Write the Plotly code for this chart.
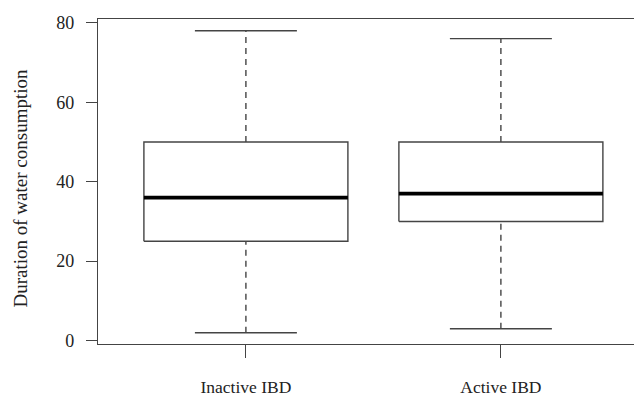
import plotly.graph_objects as go

categories = ["Inactive IBD", "Active IBD"]
lower_whisker = [2, 3]
q1 = [25, 30]
median = [36, 37]
q3 = [50, 50]
upper_whisker = [78, 76]
y_ticks = [0, 20, 40, 60, 80]

BOX_HALF = 0.4
CAP_HALF = 0.2
LINE_COL = "#444444"
FONT = "Liberation Serif, Times New Roman, serif"

fig = go.Figure()
positions = list(range(1, len(categories) + 1))

for p, lo, a, m, b, hi in zip(positions, lower_whisker, q1, median, q3, upper_whisker):
    # whiskers (dashed)
    fig.add_trace(go.Scatter(x=[p, p], y=[b, hi], mode="lines",
                             line=dict(color=LINE_COL, width=1.4, dash="6px,5px"),
                             showlegend=False, hoverinfo="skip"))
    fig.add_trace(go.Scatter(x=[p, p], y=[lo, a], mode="lines",
                             line=dict(color=LINE_COL, width=1.4, dash="6px,5px"),
                             showlegend=False, hoverinfo="skip"))
    # caps
    fig.add_trace(go.Scatter(x=[p - CAP_HALF, p + CAP_HALF], y=[hi, hi], mode="lines",
                             line=dict(color=LINE_COL, width=1.4),
                             showlegend=False, hoverinfo="skip"))
    fig.add_trace(go.Scatter(x=[p - CAP_HALF, p + CAP_HALF], y=[lo, lo], mode="lines",
                             line=dict(color=LINE_COL, width=1.4),
                             showlegend=False, hoverinfo="skip"))
    # box
    fig.add_trace(go.Scatter(x=[p - BOX_HALF, p + BOX_HALF, p + BOX_HALF, p - BOX_HALF, p - BOX_HALF],
                             y=[a, a, b, b, a], mode="lines",
                             line=dict(color=LINE_COL, width=1.4),
                             showlegend=False, hoverinfo="skip"))
    # median
    fig.add_trace(go.Scatter(x=[p - BOX_HALF, p + BOX_HALF], y=[m, m], mode="lines",
                             line=dict(color="black", width=3.8),
                             showlegend=False, hoverinfo="skip"))

fig.update_layout(
    width=634, height=397,
    margin=dict(l=98, r=0, t=19, b=53),
    paper_bgcolor="white", plot_bgcolor="white",
    font=dict(family=FONT, color="#222222"),
    showlegend=False,
)
fig.update_xaxes(
    range=[0.42, 2.522], tickvals=positions, ticktext=categories,
    showline=True, linecolor="#444444", linewidth=1.4, mirror=True,
    ticks="outside", ticklen=13, tickcolor="#444444", tickwidth=1.4,
    showgrid=False, zeroline=False, tickfont=dict(size=17.5, family=FONT),
    ticklabelstandoff=14, automargin=False,
)
fig.update_yaxes(
    range=[-0.85, 80.95], tickvals=y_ticks,
    showline=True, linecolor="#444444", linewidth=1.4,
    ticks="outside", ticklen=11, tickcolor="#444444", tickwidth=1.4,
    showgrid=False, zeroline=False, tickfont=dict(size=18, family=FONT),
    ticklabelstandoff=8, automargin=False,
)
fig.add_annotation(
    text="Duration of water consumption", textangle=-90,
    xref="paper", yref="paper", x=(20 - 98) / 536, y=(344 - 188.5) / 325,
    xanchor="center", yanchor="middle", showarrow=False,
    font=dict(size=19, family=FONT, color="#222222"),
)

fig.write_html(
    "out.html",
    config={"displayModeBar": False},
    post_script="document.body.style.margin='0';document.body.style.overflow='hidden';",
)
